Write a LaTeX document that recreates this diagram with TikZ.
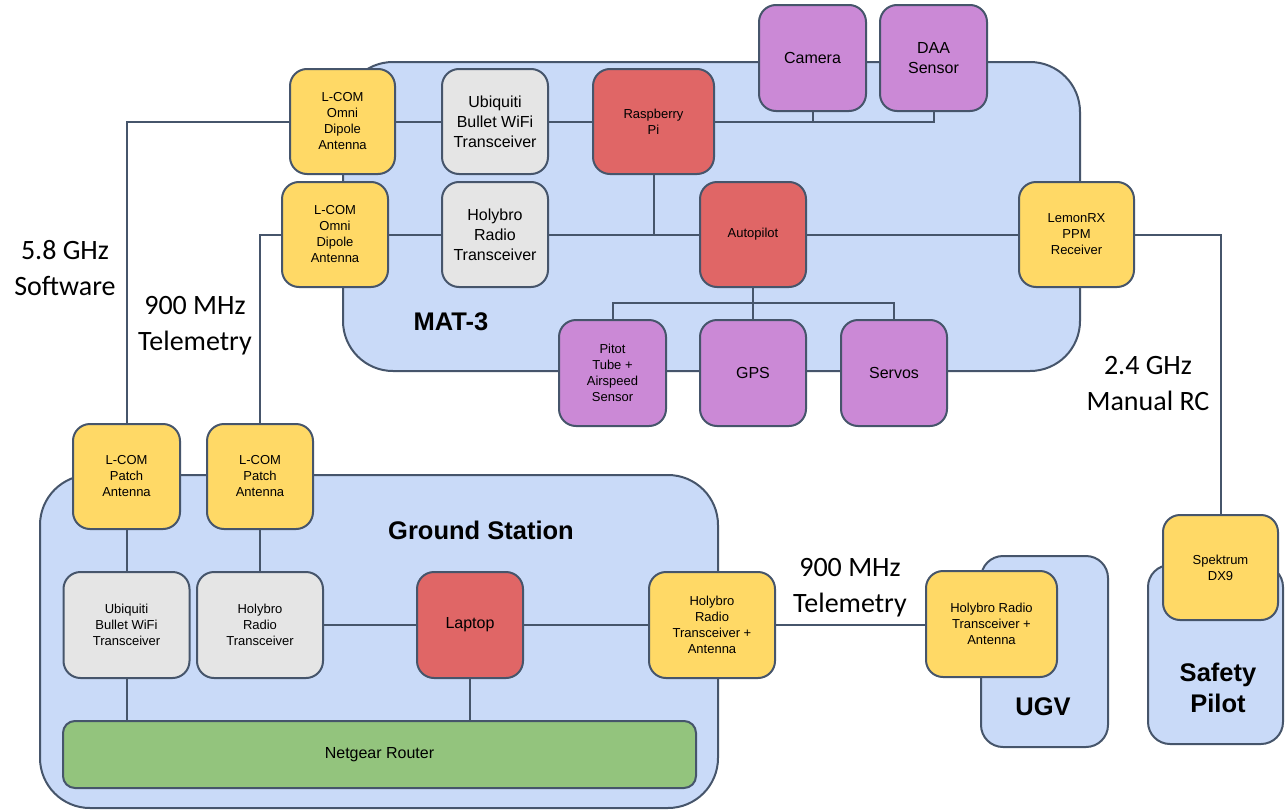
\documentclass[tikz,border=0pt]{standalone}
\usepackage{fontspec}
\setmainfont{Liberation Sans}
\newfontfamily\calfont{Carlito}
\definecolor{edge}{HTML}{46556B}
\definecolor{contfill}{HTML}{C9DAF8}
\definecolor{yel}{HTML}{FFD966}
\definecolor{gry}{HTML}{E5E5E5}
\definecolor{redf}{HTML}{E06666}
\definecolor{purp}{HTML}{CB89D6}
\definecolor{grn}{HTML}{93C47D}
\begin{document}
\begin{tikzpicture}[x=1pt,y=-1pt,
  cont/.style={draw=edge,line width=2pt,fill=contfill},
  box/.style={draw=edge,line width=2pt,rounded corners=17pt,inner sep=0pt,align=center,text=black},
  sm/.style={font=\fontsize{13}{16}\selectfont},
  md/.style={font=\fontsize{16}{20}\selectfont},
  conn/.style={draw=edge,line width=2pt},
  title/.style={font=\fontsize{25.5}{31}\selectfont\bfseries,align=center},
  band/.style={font=\calfont\fontsize{28}{36}\selectfont,align=center,anchor=base}]
\useasboundingbox (0,0) rectangle (1285,811);
\fill[white] (0,0) rectangle (1285,811);
% containers
\draw[cont,rounded corners=50pt] (343,62) rectangle (1080,371);
\draw[cont,rounded corners=50pt] (40,475) rectangle (718,808);
\draw[cont,rounded corners=22pt] (981,556) rectangle (1108,747);
\draw[cont,rounded corners=22pt] (1148,565) rectangle (1283,744);
\node[title] (mat) at (451,322) {MAT-3};
\node[title] (gst) at (481,530) {Ground Station};
\node[title] (ugvt) at (1043,707) {UGV};
\node[title] (spt) at (1218,688) {Safety\\Pilot};
% nodes MAT-3
\node[box,sm,fill=yel,minimum width=105pt,minimum height=105pt] (lcom1) at (342.5,121.5) {L-COM\\Omni\\Dipole\\Antenna};
\node[box,md,fill=gry,minimum width=106pt,minimum height=105pt] (ubq) at (495,121.5) {Ubiquiti\\Bullet WiFi\\Transceiver};
\node[box,sm,fill=redf,minimum width=121pt,minimum height=105pt] (rpi) at (653.5,121.5) {Raspberry\\Pi};
\node[box,md,fill=purp,minimum width=107pt,minimum height=106pt] (cam) at (812.5,58) {Camera};
\node[box,md,fill=purp,minimum width=107pt,minimum height=106pt] (daa) at (933.5,58) {DAA\\Sensor};
\node[box,sm,fill=yel,minimum width=106pt,minimum height=105pt] (lcom2) at (335,234.5) {L-COM\\Omni\\Dipole\\Antenna};
\node[box,md,fill=gry,minimum width=106pt,minimum height=105pt] (holy) at (495,234.5) {Holybro\\Radio\\Transceiver};
\node[box,sm,fill=redf,minimum width=106pt,minimum height=105pt] (ap) at (753,234.5) {Autopilot};
\node[box,sm,fill=yel,minimum width=115pt,minimum height=105pt] (lemon) at (1076.5,234.5) {LemonRX\\PPM\\Receiver};
\node[box,sm,fill=purp,minimum width=107pt,minimum height=106pt] (pitot) at (612.5,373) {Pitot\\Tube +\\Airspeed\\Sensor};
\node[box,md,fill=purp,minimum width=106pt,minimum height=106pt] (gps) at (753,373) {GPS};
\node[box,md,fill=purp,minimum width=106pt,minimum height=106pt] (servos) at (894,373) {Servos};
% ground station
\node[box,sm,fill=yel,minimum width=107pt,minimum height=105pt] (patch1) at (126.5,476.5) {L-COM\\Patch\\Antenna};
\node[box,sm,fill=yel,minimum width=106pt,minimum height=105pt] (patch2) at (260,476.5) {L-COM\\Patch\\Antenna};
\node[box,sm,fill=gry,minimum width=126pt,minimum height=106pt] (gsubq) at (126.5,625) {Ubiquiti\\Bullet WiFi\\Transceiver};
\node[box,sm,fill=gry,minimum width=126pt,minimum height=106pt] (gsholy) at (260,625) {Holybro\\Radio\\Transceiver};
\node[box,md,fill=redf,minimum width=106pt,minimum height=106pt] (laptop) at (470,625) {Laptop};
\node[box,sm,fill=yel,minimum width=126pt,minimum height=106pt] (gsant) at (712,625) {Holybro\\Radio\\Transceiver +\\Antenna};
\node[box,md,fill=grn,minimum width=633pt,minimum height=67pt,rounded corners=12pt] (router) at (379.5,754.5) {Netgear Router};
\node[box,sm,fill=yel,minimum width=131pt,minimum height=106pt] (ugvant) at (991.5,624) {Holybro Radio\\Transceiver +\\Antenna};
\node[box,sm,fill=yel,minimum width=115pt,minimum height=105pt] (spek) at (1220.5,567.5) {Spektrum\\DX9};
\coordinate (bus) at (753,303);
% labels
\node[band] (l58) at (65,295) {5.8 GHz\\Software};
\node[band] (l900a) at (195,350) {900 MHz\\Telemetry};
\node[band] (l24) at (1148,410) {2.4 GHz\\Manual RC};
\node[band] (l900b) at (850,612) {900 MHz\\Telemetry};
% connectors
\draw[conn] (lcom1.west) -| (patch1.north);
\draw[conn] (lcom2.west) -| (patch2.north);
\draw[conn] (lcom1.east) -- (ubq.west);
\draw[conn] (ubq.east) -- (rpi.west);
\draw[conn] (rpi.east) -| (daa.south);
\draw[conn] (cam.south) -- (cam.south |- rpi.east);
\draw[conn] (lcom2.east) -- (holy.west);
\draw[conn] (holy.east) -- (ap.west);
\draw[conn] (rpi.south) -- (rpi.south |- holy.east);
\draw[conn] (ap.east) -- (lemon.west);
\draw[conn] (lemon.east) -| (spek.north);
\draw[conn] (ap.south) -- (gps.north);
\draw[conn] (pitot.north) |- (bus) -| (servos.north);
\draw[conn] (patch1.south) -- (gsubq.north);
\draw[conn] (patch2.south) -- (gsholy.north);
\draw[conn] (gsubq.south) -- (gsubq.south |- router.north);
\draw[conn] (gsholy.east) -- (laptop.west);
\draw[conn] (laptop.east) -- (gsant.west);
\draw[conn] (laptop.south) -- (laptop.south |- router.north);
\draw[conn] (gsant.east) -- (ugvant.west |- gsant.east);
\end{tikzpicture}
\end{document}
